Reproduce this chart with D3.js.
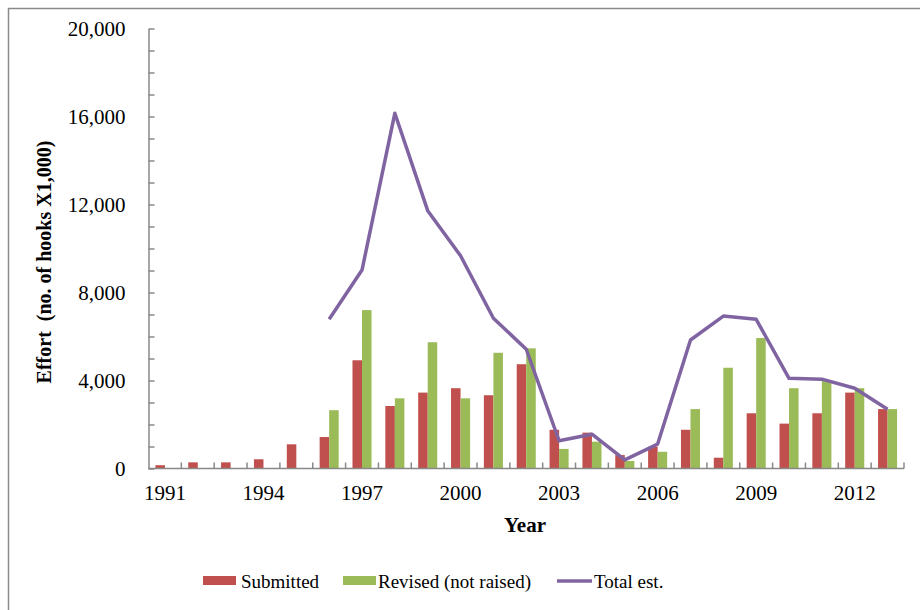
<!DOCTYPE html>
<html>
<head>
<meta charset="utf-8">
<script src="https://cdn.jsdelivr.net/npm/d3@7"></script>
<style>
  body { margin: 0; background: #fff; }
  svg text { font-family: "Liberation Serif", "Times New Roman", serif; fill: #000; }
</style>
</head>
<body>
<div id="chart"></div>
<script>
// data
const years = [1991, 1992, 1993, 1994, 1995, 1996, 1997, 1998, 1999, 2000, 2001, 2002,
               2003, 2004, 2005, 2006, 2007, 2008, 2009, 2010, 2011, 2012, 2013];
const submitted = [150, 280, 280, 420, 1100, 1430, 4920, 2840, 3450, 3650, 3330, 4740,
                   1760, 1630, 610, 990, 1760, 490, 2510, 2040, 2510, 3450, 2700];
const revised = [null, null, null, null, null, 2650, 7200, 3190, 5740, 3190, 5260, 5460,
                 890, 1220, 340, 760, 2700, 4580, 5930, 3650, 4020, 3650, 2700];
const totalEst = [null, null, null, null, null, 6780, 9020, 16150, 11720, 9670, 6830, 5420,
                  1260, 1560, 390, 1110, 5840, 6930, 6780, 4100, 4060, 3650, 2690];
const yTicks = d3.range(0, 20001, 1000);
const yLabels = [0, 4000, 8000, 12000, 16000, 20000];
const xLabels = [1991, 1994, 1997, 2000, 2003, 2006, 2009, 2012];

const colRed = "#c0504d", colGreen = "#9bbb59", colPurple = "#8064a2", axisCol = "#888";

const svg = d3.select("#chart").append("svg")
    .attr("width", 920)
    .attr("height", 610);

// outer frame
svg.append("rect")
    .attr("x", 8.5).attr("y", 8.5)
    .attr("width", 930).attr("height", 620)
    .attr("fill", "none").attr("stroke", "#8a8a8a").attr("stroke-width", 1.5);

const x = d3.scaleBand().domain(years).range([148.5, 904]).padding(0);
const y = d3.scaleLinear().domain([0, 20000]).range([468.5, 28.5]);
const bw = x.bandwidth() * 0.29;
const cx = d => x(d) + x.bandwidth() / 2;

// bars
svg.append("g").selectAll("rect")
    .data(years.map((yr, i) => ({yr, v: submitted[i]})).filter(d => d.v != null))
    .join("rect")
    .attr("x", d => cx(d.yr) - bw)
    .attr("width", bw)
    .attr("y", d => y(d.v))
    .attr("height", d => y(0) - y(d.v))
    .attr("fill", colRed);

svg.append("g").selectAll("rect")
    .data(years.map((yr, i) => ({yr, v: revised[i]})).filter(d => d.v != null))
    .join("rect")
    .attr("x", d => cx(d.yr))
    .attr("width", bw)
    .attr("y", d => y(d.v))
    .attr("height", d => y(0) - y(d.v))
    .attr("fill", colGreen);

// y axis, ticks pointing inward
const yAxis = svg.append("g")
    .attr("transform", "translate(148.5,0)")
    .call(d3.axisLeft(y)
        .tickValues(yTicks)
        .tickSizeInner(-6)
        .tickSizeOuter(0)
        .tickPadding(23)
        .tickFormat(d => yLabels.includes(d) ? d3.format(",")(d) : ""));
yAxis.selectAll("path, line").attr("stroke", axisCol).attr("stroke-width", 1.5);
yAxis.selectAll("text").attr("font-size", 21).attr("font-family", "Liberation Serif");

// x axis line + boundary ticks
const xg = svg.append("g");
xg.append("line")
    .attr("x1", 148.5).attr("x2", 904)
    .attr("y1", y(0)).attr("y2", y(0))
    .attr("stroke", axisCol).attr("stroke-width", 1.5);
xg.selectAll("line.tk")
    .data(years.slice(1).concat(["end"]))
    .join("line")
    .attr("class", "tk")
    .attr("x1", d => d === "end" ? 904 : x(d))
    .attr("x2", d => d === "end" ? 904 : x(d))
    .attr("y1", y(0)).attr("y2", y(0) - 6)
    .attr("stroke", axisCol).attr("stroke-width", 1.5);

const xAxis = svg.append("g")
    .attr("transform", `translate(0,${y(0)})`)
    .call(d3.axisBottom(x).tickValues(xLabels).tickSize(0).tickPadding(17));
xAxis.select(".domain").remove();
xAxis.selectAll("text").attr("font-size", 21).attr("font-family", "Liberation Serif");

// total est. line
const line = d3.line()
    .defined(d => d.v != null)
    .x(d => cx(d.yr))
    .y(d => y(d.v));
svg.append("path")
    .datum(years.map((yr, i) => ({yr, v: totalEst[i]})))
    .attr("d", line)
    .attr("fill", "none")
    .attr("stroke", colPurple)
    .attr("stroke-width", 3.5)
    .attr("stroke-linejoin", "round");

// axis titles
svg.append("text")
    .attr("x", 525).attr("y", 532)
    .attr("text-anchor", "middle")
    .attr("font-size", 21).attr("font-weight", "bold")
    .text("Year");

svg.append("text")
    .attr("transform", "translate(51,262) rotate(-90)")
    .attr("text-anchor", "middle")
    .attr("font-size", 20).attr("font-weight", "bold")
    .attr("xml:space", "preserve")
    .style("white-space", "pre")
    .text("Effort  (no. of hooks X1,000)");

// legend
const legend = svg.append("g");
legend.append("rect").attr("x", 203).attr("y", 576).attr("width", 33).attr("height", 9).attr("fill", colRed);
legend.append("text").attr("x", 241).attr("y", 588).attr("font-size", 19).text("Submitted");
legend.append("rect").attr("x", 343).attr("y", 576).attr("width", 33).attr("height", 9).attr("fill", colGreen);
legend.append("text").attr("x", 378).attr("y", 588).attr("font-size", 19).text("Revised (not raised)");
legend.append("line").attr("x1", 557).attr("x2", 592).attr("y1", 581).attr("y2", 581)
    .attr("stroke", colPurple).attr("stroke-width", 3.5);
legend.append("text").attr("x", 594).attr("y", 588).attr("font-size", 19).text("Total est.");
</script>
</body>
</html>
